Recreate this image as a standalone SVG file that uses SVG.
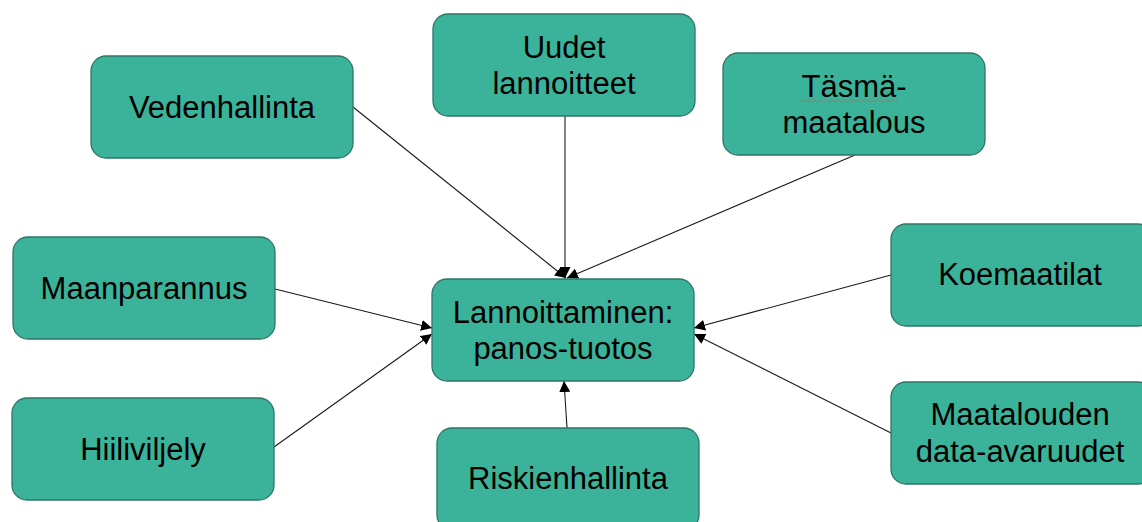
<svg xmlns="http://www.w3.org/2000/svg" width="1142" height="522" viewBox="0 0 1142 522">
<style>
.box{fill:#3bb39a;stroke:#2f7566;stroke-width:1.3}
.t{font-family:"Liberation Sans",Arial,sans-serif;font-size:31px;fill:#000;text-anchor:middle}
.c{stroke:#1a1a1a;stroke-width:1.1;fill:none;marker-end:url(#ah)}
</style>
<defs>
<marker id="ah" viewBox="0 0 10 10" refX="10" refY="5" markerWidth="11" markerHeight="11" markerUnits="userSpaceOnUse" orient="auto">
<path d="M0,0 L10,5 L0,10 Z" fill="#000"/>
</marker>
</defs>
<rect width="1142" height="522" fill="#fff"/>
<g id="connectors">
<line class="c" x1="353" y1="107" x2="566" y2="278"/>
<line class="c" x1="565" y1="116" x2="565" y2="278"/>
<line class="c" x1="855" y1="155" x2="567" y2="278"/>
<line class="c" x1="275" y1="289" x2="432" y2="328"/>
<line class="c" x1="274" y1="447" x2="432" y2="334"/>
<line class="c" x1="567" y1="428" x2="564" y2="381"/>
<line class="c" x1="891" y1="275" x2="694" y2="328"/>
<line class="c" x1="891" y1="433" x2="694" y2="334"/>
</g>
<g id="vedenhallinta"><rect class="box" x="91" y="56" width="262" height="102" rx="15"/><text class="t" x="222" y="118">Vedenhallinta</text></g>
<g id="uudet-lannoitteet"><rect class="box" x="433" y="14" width="262" height="102" rx="15"/><text class="t" x="564" y="58">Uudet</text><text class="t" x="564" y="94">lannoitteet</text></g>
<g id="tasma-maatalous"><rect class="box" x="723" y="53" width="262" height="102" rx="15"/><text class="t" x="854" y="97">Täsmä-</text><path d="M801,101 q1.5,-2 3,0 t3,0 t3,0 t3,0 t3,0 t3,0 t3,0 t3,0 t3,0 t3,0 t3,0 t3,0 t3,0 t3,0 t3,0 t3,0 t3,0 t3,0 t3,0 t3,0 t3,0 t3,0 t3,0 t3,0 t3,0 t3,0 t3,0 t3,0 t3,0 t3,0 t3,0 t3,0" fill="none" stroke="#e05a4a" stroke-width="0.9"/><text class="t" x="854" y="133">maatalous</text></g>
<g id="maanparannus"><rect class="box" x="13" y="237" width="262" height="102" rx="15"/><text class="t" x="144" y="299">Maanparannus</text></g>
<g id="hiiliviljely"><rect class="box" x="12" y="398" width="262" height="102" rx="15"/><text class="t" x="143" y="460">Hiiliviljely</text></g>
<g id="lannoittaminen"><rect class="box" x="432" y="279" width="262" height="102" rx="15"/><text class="t" x="563" y="323">Lannoittaminen:</text><text class="t" x="563" y="359">panos-tuotos</text></g>
<g id="riskienhallinta"><rect class="box" x="437" y="428" width="262" height="102" rx="15"/><text class="t" x="568" y="489">Riskienhallinta</text></g>
<g id="koemaatilat"><rect class="box" x="891" y="224" width="262" height="102" rx="15"/><text class="t" x="1020" y="285">Koemaatilat</text></g>
<g id="maatalouden"><rect class="box" x="891" y="382" width="262" height="102" rx="15"/><text class="t" x="1020" y="425">Maatalouden</text><text class="t" x="1020" y="462">data-avaruudet</text></g>
</svg>
